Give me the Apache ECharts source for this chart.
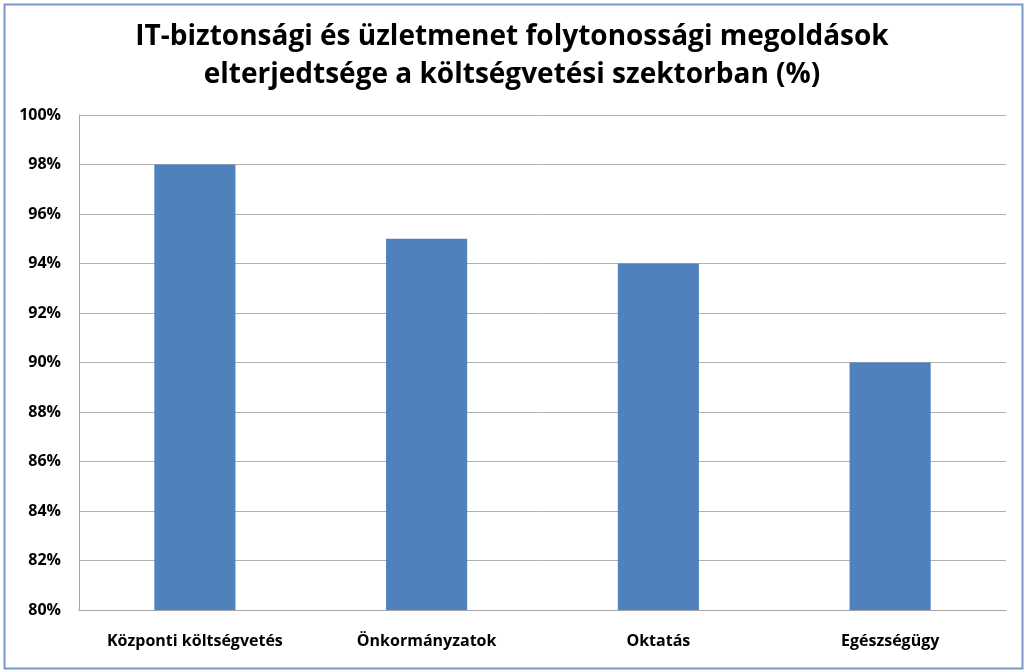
<!DOCTYPE html>
<html><head><meta charset="utf-8">
<script src="https://cdn.jsdelivr.net/npm/echarts@6/dist/echarts.min.js"></script>
<style>
html,body{margin:0;padding:0;background:#fff;}
#c{width:1024px;height:671px;}
</style></head>
<body><div id="c"></div>
<script>
const titleLines = ['IT-biztonsági és üzletmenet folytonossági megoldások', 'elterjedtsége a költségvetési szektorban (%)'];
const categories = ['Központi költségvetés', 'Önkormányzatok', 'Oktatás', 'Egészségügy'];
const values = [98, 95, 94, 90];
const yMin = 80, yMax = 100, yStep = 2;

const chart = echarts.init(document.getElementById('c'));
chart.setOption({
  animation: false,
  graphic: [{
    type: 'rect', left: 2, top: 2, shape: {width: 1018, height: 664},
    style: {fill: 'none', stroke: '#7c98c8', lineWidth: 2}, z: 0
  }],
  title: {
    text: titleLines.join('\n'), left: 'center', top: 13,
    textStyle: {fontFamily: 'Open Sans', fontWeight: 'bold', fontSize: 28, color: '#000', lineHeight: 38}
  },
  grid: {left: 79, right: 18, top: 115, bottom: 61, containLabel: false},
  xAxis: {
    type: 'category', data: categories,
    axisLine: {lineStyle: {color: '#a6a6a6', width: 1}},
    axisTick: {show: false},
    axisLabel: {color: '#000', fontFamily: 'Open Sans', fontWeight: 'bold', fontSize: 16, margin: 23}
  },
  yAxis: {
    type: 'value', min: yMin, max: yMax, interval: yStep,
    axisLine: {show: true, lineStyle: {color: '#a6a6a6'}},
    axisTick: {show: false},
    splitLine: {lineStyle: {color: '#b0b0b0', width: 1}},
    axisLabel: {color: '#000', fontFamily: 'Open Sans', fontWeight: 'bold', fontSize: 16, margin: 18, formatter: '{value}%'}
  },
  series: [{
    type: 'bar', data: values, barWidth: '35%',
    itemStyle: {color: '#4f81bd'}
  }]
});
</script></body></html>
